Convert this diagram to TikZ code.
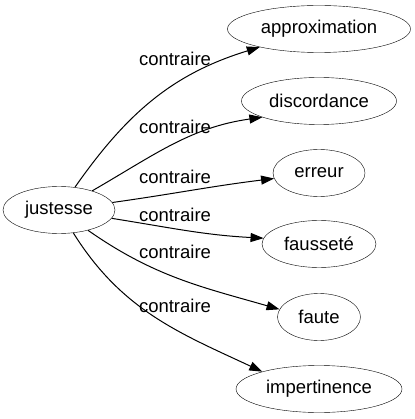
\documentclass[tikz,border=0pt]{standalone}
\usepackage{fontspec}
\setmainfont{Liberation Sans}
\usetikzlibrary{shapes.geometric,arrows.meta}
\tikzset{
  >={Triangle[length=13pt,width=9pt]},
}

\begin{document}
\begin{tikzpicture}[
  x=1pt, y=1pt,
  every node/.style={font=\fontsize{18.5}{22}\selectfont},
  word/.style={draw,ellipse,inner sep=0pt,minimum height=47pt},
  rel/.style={draw,->,line width=1pt}
]
\useasboundingbox (0,0) rectangle (414,-419);

\node[word,minimum width=112pt] (justesse) at (59,-210) {justesse};

\node[word,minimum width=183pt] (approximation) at (319,-29) {approximation};
\node[word,minimum width=155pt] (discordance) at (319,-101) {discordance};
\node[word,minimum width=92pt] (erreur) at (319,-173) {erreur};
\node[word,minimum width=114pt] (faussete) at (319,-244) {fausseté};
\node[word,minimum width=83pt] (faute) at (319,-317) {faute};
\node[word,minimum width=166pt] (impertinence) at (319,-389) {impertinence};

\draw[rel] (justesse) to[out=55,in=197] (approximation);
\draw[rel] (justesse) to[out=30,in=188] (discordance.196);
\draw[rel] (justesse) to[out=8,in=187] (erreur);
\draw[rel] (justesse) to[out=-9,in=177] (faussete.174);
\draw[rel] (justesse) to[out=-35,in=164] (faute.169);
\draw[rel] (justesse) to[out=-58,in=155] (impertinence.163);

% edge labels
\foreach \y/\name in {59/lab1,127/lab2,177/lab3,215/lab4,252/lab5,306/lab6}
  \node (\name) at (175,-\y) {contraire};
\end{tikzpicture}
\end{document}
